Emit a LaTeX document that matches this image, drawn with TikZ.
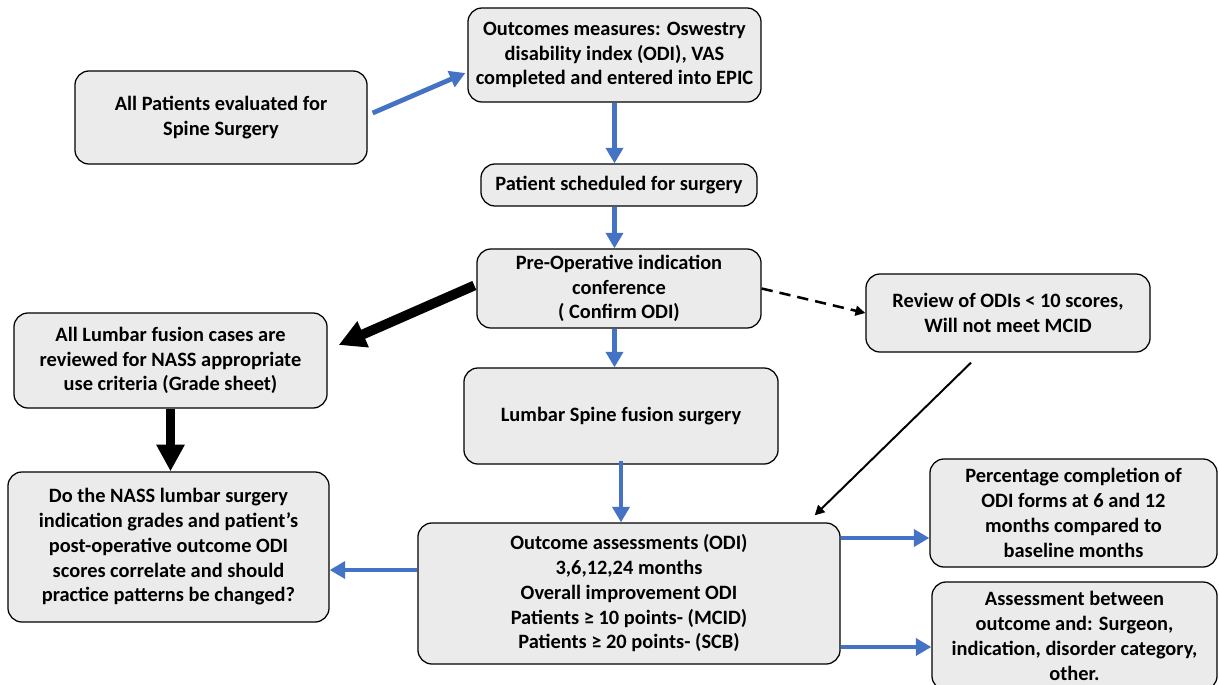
\documentclass[tikz,border=0pt]{standalone}
\usepackage{fontspec}
\usepackage{amssymb}
\usepackage{xcolor}
\setmainfont{Carlito}
\usetikzlibrary{arrows.meta,calc}
\definecolor{boxgray}{HTML}{EBEBEB}
\definecolor{flowblue}{HTML}{4472C4}
\tikzset{
  box/.style={draw=black, line width=0.9pt, fill=boxgray, rounded corners=10pt,
    align=center, inner sep=0pt, font=\bfseries\fontsize{14.5}{17.6}\selectfont},
  bluearrow/.style={draw=flowblue, line width=3.4pt, -{Triangle[length=11pt,width=12pt]}},
  bigarrow/.style={draw=black, line width=7pt, -{Triangle[length=19pt,width=19pt]}},
  thinarrow/.style={draw=black, line width=1.4pt, -{Triangle[length=7pt,width=7pt]}},
  dasharrow/.style={draw=black, line width=1.8pt, dash pattern=on 8pt off 5pt,
    -{Triangle[length=7pt,width=7pt]}}
}
\begin{document}
\begin{tikzpicture}[x=0.025cm,y=-0.025cm]
        \useasboundingbox (0,0) rectangle (1219,685);
        % boxes
        \node[box, minimum width=7.3cm, minimum height=2.325cm] (pat) at (221,117.5)
        {All Patients evaluated for\\Spine Surgery};
        \node[box, minimum width=7.325cm, minimum height=2.35cm] (meas) at (614.5,55)
        {Outcomes measures: Oswestry\\disability index (ODI), VAS\\completed and entered into EPIC};
        \node[box, minimum width=6.9cm, minimum height=1.05cm] (sched) at (619,185)
        {Patient scheduled for surgery};
        \node[box, minimum width=7.1cm, minimum height=1.975cm] (preop) at (619,288.5)
        {Pre-Operative indication\\conference\\( Confirm ODI)};
        \node[box, minimum width=7.1cm, minimum height=1.95cm] (rev) at (1008,313)
        {Review of ODIs < 10 scores,\\Will not meet MCID};
        \node[box, minimum width=7.825cm, minimum height=2.375cm] (lum) at (170.5,360.5)
        {All Lumbar fusion cases are\\reviewed for NASS appropriate\\use criteria (Grade sheet)};
        \node[box, minimum width=8.025cm, minimum height=3.75cm] (nass) at (168.5,547)
        {Do the NASS lumbar surgery\\indication grades and patient’s\\post-operative outcome ODI\\scores correlate and should\\practice patterns be changed?};
        \node[box, minimum width=7.85cm, minimum height=2.4cm] (fus) at (621,416)
        {Lumbar Spine fusion surgery};
        \node[box, minimum width=10.55cm, minimum height=3.525cm] (outc) at (629,593.5)
        {Outcome assessments (ODI)\\3,6,12,24 months\\Overall improvement ODI\\Patients ≥ 10 points- (MCID)\\Patients ≥ 20 points- (SCB)};
        \node[box, minimum width=7.175cm, minimum height=2.7cm] (pct) at (1073.5,513)
        {Percentage completion of\\ODI forms at 6 and 12\\months compared to\\baseline months};
        \node[box, minimum width=7.125cm, minimum height=2.7cm] (oth) at (1074.5,636)
        {Assessment between\\outcome and: Surgeon,\\indication, disorder category,\\other.};
        % connectors
        \draw[bluearrow] ($(pat.east)+(5,-4.5)$) -- ($(meas.west)+(-2,18)$);
        \draw[bluearrow] (meas.south) -- (meas.south |- sched.north);
        \draw[bluearrow] (sched.south -| meas.south) -- (preop.north -| meas.south);
        \draw[bluearrow] (preop.south -| meas.south) -- (fus.north -| meas.south);
        \draw[bluearrow] ($(fus.south)+(0,-4)$) -- (fus.south |- outc.north);
        \draw[bigarrow] ($(preop.west)+(-2,-3)$) -- ($(lum.east)+(11,-15.5)$);
        \draw[bigarrow] (lum.south) -- (lum.south |- nass.north);
        \draw[dasharrow] (preop.east) -- (rev.west);
        \draw[thinarrow] ($(rev.south)+(-37,10)$) -- ($(outc.north east)+(-26,-7)$);
        \coordinate (l1) at ($(outc.west)+(0,-23.5)$);
        \coordinate (r1) at ($(outc.east)+(0,-55.5)$);
        \coordinate (r2) at ($(outc.east)+(0,53.5)$);
        \draw[bluearrow] (l1) -- (l1 -| nass.east);
        \draw[bluearrow] (r1) -- (r1 -| pct.west);
        \draw[bluearrow] (r2) -- (r2 -| oth.west);
\end{tikzpicture}
\end{document}
